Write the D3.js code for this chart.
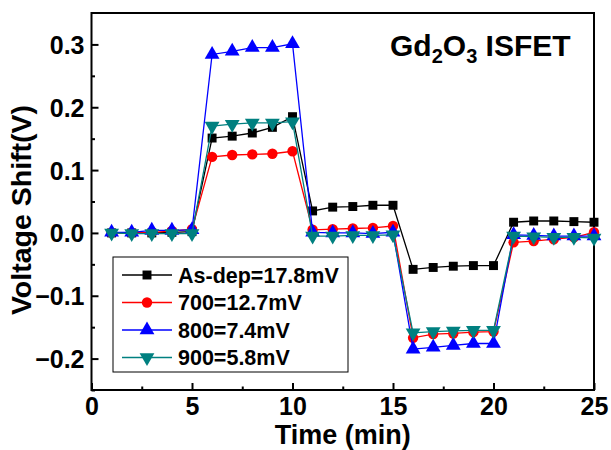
<!DOCTYPE html>
<html>
<head>
<meta charset="utf-8">
<script src="https://cdn.jsdelivr.net/npm/d3@7"></script>
<style>
  body { margin: 0; background: #fff; }
  svg { font-family: "Liberation Sans", Arial, sans-serif; font-weight: bold; }
</style>
</head>
<body>
<svg id="chart" width="611" height="450"></svg>
<script>
// time points (min)
const times = [1, 2, 3, 4, 5, 6, 7, 8, 9, 10, 11, 12, 13, 14, 15, 16, 17, 18, 19, 20, 21, 22, 23, 24, 25]

const asDep = [0.000, 0.000, 0.000, 0.001, 0.002, 0.151, 0.154, 0.159, 0.168, 0.185,
  0.035, 0.041, 0.042, 0.044, 0.044, -0.058, -0.055, -0.053, -0.052, -0.052,
  0.017, 0.019, 0.019, 0.018, 0.017]
const s700 = [0.000, 0.000, 0.001, 0.003, 0.006, 0.121, 0.124, 0.125, 0.126, 0.130,
  0.005, 0.006, 0.007, 0.008, 0.011, -0.167, -0.161, -0.160, -0.158, -0.157,
  -0.015, -0.013, -0.010, -0.007, 0.001]
const s800 = [0.001, 0.001, 0.004, 0.004, 0.005, 0.284, 0.289, 0.295, 0.295, 0.301,
  0.001, 0.000, 0.000, -0.001, 0.001, -0.185, -0.182, -0.179, -0.176, -0.176,
  -0.003, -0.004, -0.005, -0.005, -0.005]
const s900 = [0.000, -0.001, -0.001, -0.001, -0.001, 0.170, 0.173, 0.175, 0.175, 0.177,
  -0.005, -0.005, -0.004, -0.004, -0.003, -0.159, -0.157, -0.156, -0.155, -0.155,
  -0.005, -0.006, -0.007, -0.007, -0.008]

const seriesNames = ["As-dep=17.8mV", "700=12.7mV", "800=7.4mV", "900=5.8mV"]
const seriesValues = [asDep, s700, s800, s900]
const colors = ["#000000", "#ff0000", "#0000ff", "#008080"]
const symbols = [d3.symbolSquare, d3.symbolCircle, d3.symbolTriangle, d3.symbolTriangle]
const symbolSizes = [80, 85, 95, 95]
const rotations = [0, 0, 0, 180]

const xTicks = [0, 5, 10, 15, 20, 25]
const yTicks = [-0.2, -0.1, 0.0, 0.1, 0.2, 0.3]

const margin = {left: 91.5, right: 17, top: 13, bottom: 60}
const width = 611 - margin.left - margin.right
const height = 450 - margin.top - margin.bottom

const svg = d3.select("#chart")
const g = svg.append("g")
  .attr("transform", "translate(" + margin.left + "," + margin.top + ")")

const x = d3.scaleLinear().domain([0, 25]).range([0, width])
const y = d3.scaleLinear().domain([-0.25, 0.35]).range([height, 0])

// minor ticks
g.append("g")
  .attr("transform", "translate(0," + height + ")")
  .call(d3.axisBottom(x).tickValues([2.5, 7.5, 12.5, 17.5, 22.5]).tickSize(-3.5).tickFormat(""))
g.append("g")
  .call(d3.axisLeft(y).tickValues([-0.25, -0.15, -0.05, 0.05, 0.15, 0.25]).tickSize(-3.5).tickFormat(""))

// major ticks
const xAxis = g.append("g")
  .attr("transform", "translate(0," + height + ")")
  .call(d3.axisBottom(x).tickValues(xTicks).tickSize(-7).tickPadding(7).tickFormat(d3.format("d")))
const yAxis = g.append("g")
  .call(d3.axisLeft(y).tickValues(yTicks).tickSize(-7).tickPadding(7).tickFormat(d3.format(".1f")))

g.selectAll(".domain").remove()
g.selectAll(".tick line").attr("stroke", "#000").attr("stroke-width", 2)
xAxis.selectAll("text").attr("font-size", 25).attr("font-weight", "bold").attr("fill", "#000")
yAxis.selectAll("text").attr("font-size", 25).attr("font-weight", "bold").attr("fill", "#000")
  .attr("dy", "0.36em")

// frame
g.append("rect")
  .attr("width", width).attr("height", height)
  .attr("fill", "none").attr("stroke", "#000").attr("stroke-width", 2)

// series
const line = d3.line()
  .x((d, i) => x(times[i]))
  .y(d => y(d))

seriesValues.forEach((vals, k) => {
  g.append("path")
    .attr("d", line(vals))
    .attr("fill", "none")
    .attr("stroke", colors[k])
    .attr("stroke-width", 1.3)
  g.selectAll(".m" + k)
    .data(vals)
    .enter()
    .append("path")
    .attr("class", "m" + k)
    .attr("d", d3.symbol().type(symbols[k]).size(symbolSizes[k]))
    .attr("transform", (d, i) => "translate(" + x(times[i]) + "," + y(d) + ") rotate(" + rotations[k] + ")")
    .attr("fill", colors[k])
})

// legend
const legend = svg.append("g").attr("transform", "translate(113,257)")
legend.append("rect")
  .attr("width", 235).attr("height", 115)
  .attr("fill", "#fff").attr("stroke", "#000").attr("stroke-width", 1)

seriesNames.forEach((name, k) => {
  const ly = 18 + k * 27.5
  legend.append("line")
    .attr("x1", 9).attr("x2", 59).attr("y1", ly).attr("y2", ly)
    .attr("stroke", colors[k]).attr("stroke-width", 1.3)
  legend.append("path")
    .attr("d", d3.symbol().type(symbols[k]).size(symbolSizes[k]))
    .attr("transform", "translate(34," + ly + ") rotate(" + rotations[k] + ")")
    .attr("fill", colors[k])
  legend.append("text")
    .attr("x", 65).attr("y", ly).attr("dy", "0.36em")
    .attr("font-size", 21.5)
    .text(name)
})

// title
const title = svg.append("text")
  .attr("x", 390).attr("y", 56)
  .attr("font-size", 30)
title.append("tspan").text("Gd")
title.append("tspan").attr("font-size", 20).attr("dy", 7).text("2")
title.append("tspan").attr("dy", -7).text("O")
title.append("tspan").attr("font-size", 20).attr("dy", 7).text("3")
title.append("tspan").attr("dy", -7).text(" ISFET")

// axis labels
svg.append("text")
  .attr("x", margin.left + width / 2).attr("y", 444)
  .attr("text-anchor", "middle")
  .attr("font-size", 27)
  .text("Time (min)")

svg.append("text")
  .attr("transform", "translate(31," + (margin.top + 197) + ") rotate(-90)")
  .attr("text-anchor", "middle")
  .attr("font-size", 28.5)
  .text("Voltage Shift(V)")
</script>
</body>
</html>
